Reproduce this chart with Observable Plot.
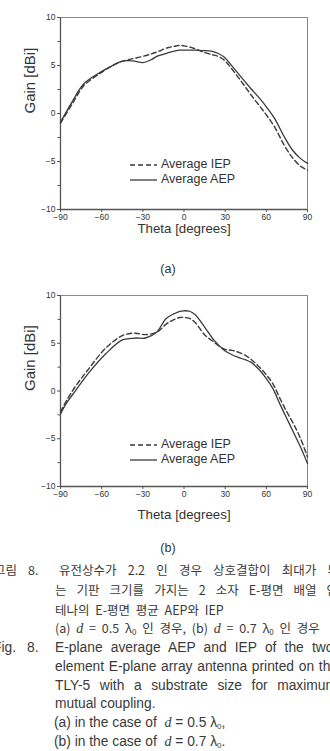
<!DOCTYPE html>
<html><head><meta charset="utf-8">
<script src="https://cdn.jsdelivr.net/npm/d3@7"></script>
<script src="https://cdn.jsdelivr.net/npm/@observablehq/plot@0.6"></script>
<style>
html,body{margin:0;padding:0;background:#fff;}
#root{position:relative;width:330px;height:751px;overflow:hidden;font-family:"Liberation Sans",Arial,sans-serif;color:#333;}
.sub{position:absolute;left:0;width:336px;text-align:center;font-size:12.5px;line-height:14px;}
.leg{position:absolute;left:130px;font-size:12.5px;color:#333;}
.leg div{height:15px;line-height:15px;white-space:nowrap;}
.leg svg{vertical-align:middle;margin-right:4px;}
.cap{position:absolute;white-space:nowrap;font-size:13.8px;line-height:16px;color:#3a3a3a;}
.ko{font-family:"Noto Sans CJK KR","Liberation Sans",sans-serif;font-size:12.5px;}
.ko4{word-spacing:3px;}
.j{text-align:justify;text-align-last:justify;white-space:normal;}
i{font-family:"Liberation Serif",serif;font-size:14px;}
sub{font-size:8px;vertical-align:-2px;}
</style></head>
<body><div id="root"></div>
<script>
// ---- data ----
const xTicks = [-90, -60, -30, 0, 30, 60, 90];
const yTicks = [-10, -5, 0, 5, 10];
const yMinor = [-7.5, -2.5, 2.5, 7.5];
const seriesNames = ["Average IEP", "Average AEP"];
const xTitle = "Theta [degrees]";
const yTitle = "Gain [dBi]";

// (a) d = 0.5 lambda0
const thetaA = [-90,-81,-73,-61,-52,-46,-41,-36,-30,-24,-19,-12,-7,-3,0,7,13,20,25,29,37,44,49,55,60,66,73,79,85,90];
const aepA   = [-0.9,1.35,3.1,4.3,5.0,5.4,5.5,5.45,5.3,5.6,6.0,6.3,6.5,6.6,6.6,6.6,6.55,6.5,6.25,5.9,4.6,3.4,2.55,1.6,0.7,-0.5,-2.4,-3.8,-4.7,-5.2];
const iepA   = [-1.0,1.1,2.9,4.2,5.0,5.4,5.6,5.75,5.95,6.2,6.45,6.85,7.0,7.1,7.05,6.8,6.45,6.15,5.95,5.6,4.25,2.9,1.9,0.8,-0.15,-1.4,-3.3,-4.6,-5.5,-5.9];

// (b) d = 0.7 lambda0
const thetaB = [-90,-86,-79,-69,-57,-45,-38,-35,-28,-20,-13,-7,-3,0,4,8,15,22,29,35,40,45,49,55,60,65,70,75,80,85,90];
const aepB   = [-2.4,-1.35,0.05,1.97,3.9,5.35,5.5,5.55,5.55,6.15,7.6,8.1,8.35,8.4,8.35,8.0,6.7,5.3,4.3,3.8,3.5,3.25,3.0,2.2,1.3,0.2,-1.4,-2.9,-4.4,-5.9,-7.6];
const iepB   = [-2.2,-1.1,0.5,2.4,4.5,5.8,6.05,6.05,5.9,6.15,7.0,7.5,7.7,7.7,7.6,7.2,5.9,5.1,4.4,4.25,4.05,3.7,3.3,2.5,1.7,0.7,-0.8,-2.2,-3.5,-5.0,-6.9];

const panelLabels = ["(a)", "(b)"];

const root = document.getElementById("root");
const ink = "#3a3a3a";

function makeChart(theta, aep, iep, opts) {
  const rowsA = theta.map((t, i) => ({theta: t, gain: aep[i]}));
  const rowsI = theta.map((t, i) => ({theta: t, gain: iep[i]}));
  return Plot.plot({
    width: 330,
    height: opts.height,
    marginLeft: 60,
    marginRight: 23,
    marginTop: opts.mt,
    marginBottom: opts.mb,
    style: {fontFamily: '"Liberation Sans", Arial, sans-serif', color: "#333", overflow: "visible", background: "transparent"},
    x: {domain: [-90, 90]},
    y: {domain: [-10, 10]},
    marks: [
      Plot.frame({stroke: "#8a8a8a", strokeWidth: 1}),
      Plot.axisY(yMinor, {tickSize: 2.5, tickFormat: () => "", label: null, stroke: "#555"}),
      Plot.axisY(yTicks, {tickSize: 3, tickPadding: 2, fontSize: 8.5, label: null, stroke: "#555", fill: "#333"}),
      Plot.axisX(xTicks, {tickSize: 3, tickPadding: 1, fontSize: 8.5, label: null, stroke: "#555", fill: "#333"}),
      Plot.ruleX([-90], {stroke: "#555", strokeWidth: 1.3}),
      Plot.ruleY([-10], {stroke: "#555", strokeWidth: 1.3}),
      Plot.line(rowsI, {x: "theta", y: "gain", stroke: ink, strokeWidth: 1.4, strokeDasharray: "5,3", curve: "catmull-rom"}),
      Plot.line(rowsA, {x: "theta", y: "gain", stroke: ink, strokeWidth: 1.3, curve: "catmull-rom"}),
      Plot.text([xTitle], {frameAnchor: "bottom", dy: opts.xdy, fontSize: 13.3, fill: "#333", lineAnchor: "middle"}),
      Plot.text([yTitle], {frameAnchor: "left", dx: -30, rotate: -90, fontSize: 15, fill: "#333", lineAnchor: "middle"})
    ]
  });
}

function place(el, top) {
  el.style.position = "absolute";
  el.style.left = "0px";
  el.style.top = top + "px";
  root.appendChild(el);
}

function legend(top) {
  const d = document.createElement("div");
  d.className = "leg";
  d.style.top = top + "px";
  d.innerHTML =
    `<div><svg width="27" height="6"><line x1="0" y1="3" x2="27" y2="3" stroke="${ink}" stroke-width="1.4" stroke-dasharray="5,3"/></svg>${seriesNames[0]}</div>` +
    `<div><svg width="27" height="6"><line x1="0" y1="3" x2="27" y2="3" stroke="${ink}" stroke-width="1.3"/></svg>${seriesNames[1]}</div>`;
  root.appendChild(d);
}

function label(text, centerY) {
  const d = document.createElement("div");
  d.className = "sub";
  d.style.top = (centerY - 7) + "px";
  d.textContent = text;
  root.appendChild(d);
}

place(makeChart(thetaA, aepA, iepA, {height: 240, mt: 17, mb: 31, xdy: 19.5}), 0);
legend(157);
label(panelLabels[0], 269);

place(makeChart(thetaB, aepB, iepB, {height: 250, mt: 17, mb: 42, xdy: 28.5}), 278);
legend(437);
label(panelLabels[1], 548);

// ---- caption ----
function cap(html, left, cy, cls, width) {
  const d = document.createElement("div");
  d.className = "cap " + (cls || "") + (width ? " j" : "");
  d.style.left = left + "px";
  d.style.top = (cy - 8) + "px";
  if (width) d.style.width = width + "px";
  d.innerHTML = html;
  root.appendChild(d);
}
cap("그림", -6, 570, "ko");
cap("8.", 28, 570, "ko");
cap("유전상수가 2.2 인 경우 상호결합이 최대가 되", 59, 570, "ko", 280);
cap("는 기판 크기를 가지는 2 소자 E-평면 배열 안", 55, 590, "ko", 283);
cap("테나의 E-평면 평균 AEP와 IEP", 55, 610, "ko ko4");
cap("(a) <i>d</i> = 0.5 λ<sub>0</sub> 인 경우, (b) <i>d</i> = 0.7 λ<sub>0</sub> 인 경우", 55, 628, "ko ko4");
cap("Fig.", -7, 648);
cap("8.", 27, 648);
cap("E-plane average AEP and IEP of the two-", 55, 648, "", 283);
cap("element E-plane array antenna printed on the", 55, 667, "", 283);
cap("TLY-5 with a substrate size for maximum", 55, 686, "", 282);
cap("mutual coupling.", 55, 704);
cap("(a) in the case of &nbsp;<i>d</i> = 0.5 λ<sub>0</sub>,", 54, 723);
cap("(b) in the case of &nbsp;<i>d</i> = 0.7 λ<sub>0</sub>.", 54, 742);
</script>
</body></html>
